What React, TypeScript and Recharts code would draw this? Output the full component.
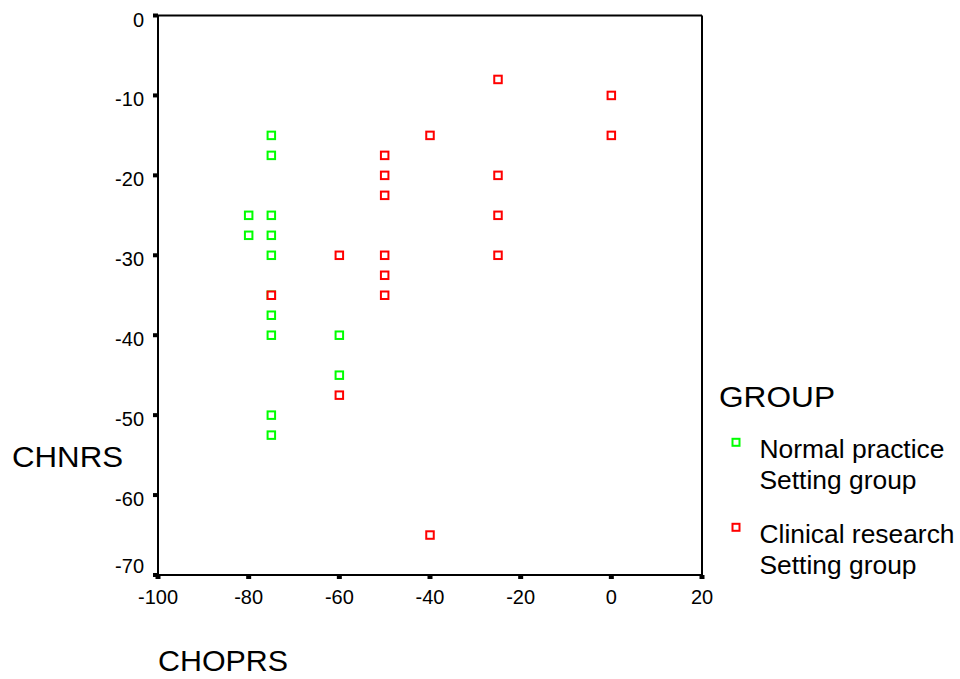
import React from 'react';
import { ScatterChart, Scatter, XAxis, YAxis, ReferenceLine } from 'recharts';

// CHOPRS (x) vs CHNRS (y), by GROUP
const normalX = [-75, -75, -80, -75, -80, -75, -75, -75, -75, -75, -60, -60, -75, -75];
const normalY = [-15, -17.5, -25, -25, -27.5, -27.5, -30, -35, -37.5, -40, -40, -45, -50, -52.5];

const clinicalX = [-25, 0, -40, 0, -50, -50, -25, -50, -25, -60, -50, -25, -50, -75, -50, -60, -40];
const clinicalY = [-8, -10, -15, -15, -17.5, -20, -20, -22.5, -25, -30, -30, -30, -32.5, -35, -35, -47.5, -65];

const xTicks = [-100, -80, -60, -40, -20, 0, 20];
const yTicks = [0, -10, -20, -30, -40, -50, -60, -70];

const groupNames = ['Normal practice', 'Clinical research'];
const groupSub = ['Setting group', 'Setting group'];
const groupColors = ['#00ff00', '#ff0000'];

const normalData = normalX.map((x, i) => ({ x, y: normalY[i] }));
const clinicalData = clinicalX.map((x, i) => ({ x, y: clinicalY[i] }));

const FONT = '"Liberation Sans", Arial, sans-serif';

const squareShape = (color: string) => (props: any) => {
  const { cx, cy } = props;
  return <rect x={cx - 3.75} y={cy - 3.75} width={7.5} height={7.5} fill="#fff" stroke={color} strokeWidth={2} />;
};

const YTick = (props: any) => {
  const { x, y, payload } = props;
  // bottom label sits a little higher than its tick in the original
  const shift = payload.value === -70 ? -13 : 0;
  return (
    <text x={x} y={y + 11 + shift} textAnchor="end" fontSize={20} fontFamily={FONT} fill="#000">
      {payload.value}
    </text>
  );
};

export default function App() {
  return (
    <div style={{ position: 'absolute', left: 0, top: 0, width: 960, height: 679, background: '#fff' }}>
      <ScatterChart width={960} height={679} margin={{ top: 15.5, right: 258, bottom: 74, left: 98 }}>
        <XAxis
          type="number"
          dataKey="x"
          domain={[-100, 20]}
          ticks={xTicks}
          height={30}
          axisLine={{ stroke: '#000', strokeWidth: 2 }}
          tickLine={{ stroke: '#000', strokeWidth: 5 }}
          tickSize={4}
          tickMargin={11}
          tick={{ fill: '#000', fontSize: 20, fontFamily: FONT }}
          interval={0}
        />
        <YAxis
          type="number"
          dataKey="y"
          domain={[-70, 0]}
          ticks={yTicks}
          width={60}
          axisLine={{ stroke: '#000', strokeWidth: 2 }}
          tickLine={{ stroke: '#000', strokeWidth: 4 }}
          tickSize={5}
          tickMargin={9}
          tick={<YTick />}
          interval={0}
        />
        <ReferenceLine y={0} stroke="#000" strokeWidth={2} />
        <ReferenceLine x={20} stroke="#000" strokeWidth={2} />
        <Scatter name={groupNames[0]} data={normalData} shape={squareShape(groupColors[0])} isAnimationActive={false} />
        <Scatter name={groupNames[1]} data={clinicalData} shape={squareShape(groupColors[1])} isAnimationActive={false} />
        <g fontFamily={FONT} fill="#000">
          <text x={12} y={466.5} fontSize={30} textLength={111} lengthAdjust="spacingAndGlyphs">CHNRS</text>
          <text x={158} y={671} fontSize={30} textLength={130} lengthAdjust="spacingAndGlyphs">CHOPRS</text>
          <text x={719} y={406.5} fontSize={30} textLength={116} lengthAdjust="spacingAndGlyphs">GROUP</text>
          {groupNames.map((name, i) => {
            const base = 458.3 + i * 85;
            return (
              <g key={name}>
                <rect x={732.5} y={base - 19.5} width={7} height={7} fill="#fff" stroke={groupColors[i]} strokeWidth={2} />
                <text x={759.5} y={base} fontSize={25} textLength={i === 0 ? 185 : 195} lengthAdjust="spacingAndGlyphs">{name}</text>
                <text x={759.5} y={base + 31} fontSize={25} textLength={157} lengthAdjust="spacingAndGlyphs">{groupSub[i]}</text>
              </g>
            );
          })}
        </g>
      </ScatterChart>
    </div>
  );
}
